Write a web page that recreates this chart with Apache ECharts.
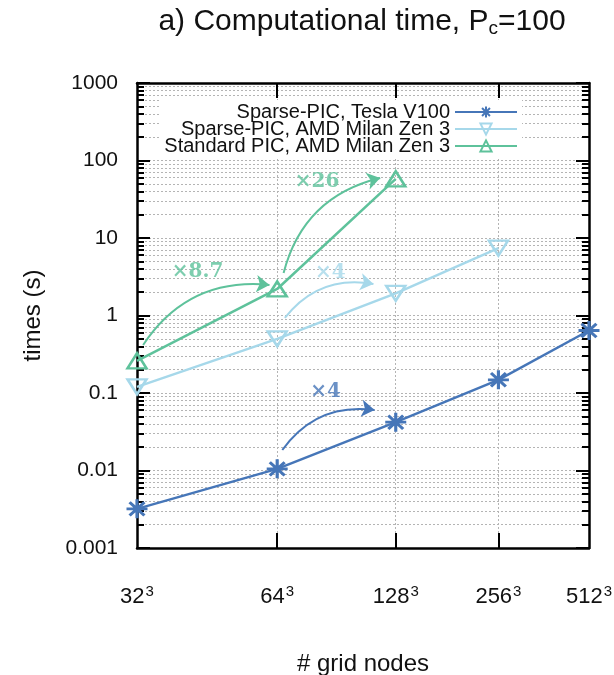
<!DOCTYPE html>
<html><head><meta charset="utf-8">
<script src="https://cdn.jsdelivr.net/npm/echarts@6/dist/echarts.min.js"></script>
<style>html,body{margin:0;padding:0;background:#fff}#c{width:614px;height:675px}</style>
</head><body><div id="c"></div>
<script>
// ---- data ----
const gridExp = [5, 6, 7, 8, 9];               // grid nodes = (2^exp)^3
const xTickBase = ['32', '64', '128', '256', '512'];   // tick labels: base^3
const yTickValues = [0.001, 0.01, 0.1, 1, 10, 100, 1000];
const yTickLabels = ['0.001', '0.01', '0.1', '1', '10', '100', '1000'];
const seriesNames = ['Sparse-PIC, Tesla V100', 'Sparse-PIC, AMD Milan Zen 3', 'Standard PIC, AMD Milan Zen 3'];
const teslaV100 = [0.0032, 0.0105, 0.042, 0.148, 0.64];
const sparseAMD = [0.12, 0.50, 1.93, 7.4, null];
const standardAMD = [0.26, 2.2, 58, null, null];
const annotationText = ['×8.7', '×26', '×4', '×4'];
const annotationSeries = [2, 2, 1, 0];
const arrowStart = [[5.04, 0.416], [6.05, 3.53], [6.06, 0.93], [6.04, 0.0184]];
const arrowEnd = [[5.94, 2.48], [6.86, 59.4], [6.80, 2.55], [6.81, 0.0604]];
const annotationPos = [[5.41, 3.64], [6.32, 52.8], [6.43, 3.53], [6.39, 0.103]];

// ---- style ----
const colors = ['#4676b8', '#a6d8ea', '#5ec29b'];
const minorVals = [];
for (let d = -3; d < 3; d++) for (let k = 2; k <= 9; k++) minorVals.push(+(k * Math.pow(10, d)).toPrecision(3));

const gridLine = { show: true, lineStyle: { color: '#b4b4b4', width: 1, type: [2, 2] } };
const asterisk = 'path://M10,0L10,20M0,10L20,10M2.93,2.93L17.07,17.07M2.93,17.07L17.07,2.93';

function yAx(pos, major) {
  return {
    type: 'log', logBase: 10, min: 0.001, max: 1000, position: pos,
    axisLine: { show: major, lineStyle: { color: '#000', width: 2.5 } },
    axisTick: major ? { show: true, inside: true, length: 13, lineStyle: { color: '#000', width: 2 } }
                    : { show: true, inside: true, length: 7, customValues: minorVals, lineStyle: { color: '#000', width: 2 } },
    axisLabel: (major && pos === 'left') ? {
      show: true, margin: 19, fontSize: 21, color: '#111', fontFamily: 'Liberation Sans',
      formatter: v => { const i = yTickValues.findIndex(t => Math.abs(Math.log10(t) - Math.log10(v)) < 1e-6); return i >= 0 ? yTickLabels[i] : ''; }
    } : { show: false },
    splitLine: pos === 'left' ? gridLine : { show: false },
    minorTick: { show: false }, minorSplitLine: { show: false },
    name: (major && pos === 'left') ? 'times (s)' : '',
    nameLocation: 'middle', nameGap: 92,
    nameTextStyle: { fontSize: 24, color: '#111', fontFamily: 'Liberation Sans' }
  };
}
function xAx(pos) {
  const bottom = pos === 'bottom';
  return {
    type: 'log', logBase: 10, min: 5, max: 9, position: pos,
    axisLine: { show: true, lineStyle: { color: '#000', width: 2.5 } },
    axisTick: { show: true, inside: true, length: 15, customValues: [6, 7, 8], lineStyle: { color: '#000', width: 2 } },
    axisLabel: bottom ? {
      show: true, customValues: gridExp, margin: 36, color: '#111',
      formatter: v => '{n|' + xTickBase[gridExp.indexOf(Math.round(v))] + '}{s|3}',
      rich: {
        n: { fontSize: 22, color: '#111', fontFamily: 'Liberation Sans' },
        s: { fontSize: 15, color: '#111', fontFamily: 'Liberation Sans', padding: [0, 0, 10, 1] }
      }
    } : { show: false },
    splitLine: bottom ? gridLine : { show: false },
    name: bottom ? '# grid nodes' : '',
    nameLocation: 'middle', nameGap: 104,
    nameTextStyle: { fontSize: 24, color: '#111', fontFamily: 'Liberation Sans' }
  };
}

function lineSeries(name, vals, ci, symbol, rotate, size) {
  return {
    type: 'line', name, xAxisIndex: 0, yAxisIndex: 0, clip: false, z: 5,
    data: gridExp.map((e, i) => [e, vals[i]]).filter(p => p[1] != null),
    symbol, symbolSize: size, symbolRotate: rotate,
    lineStyle: { color: colors[ci], width: 2.5 },
    itemStyle: { color: symbol === 'triangle' ? 'rgba(255,255,255,0)' : colors[ci], borderColor: colors[ci], borderWidth: symbol === 'triangle' ? 2.5 : 3 },
    emphasis: { disabled: true }
  };
}

const chart = echarts.init(document.getElementById('c'), null, { renderer: 'canvas' });
const series = [
  lineSeries(seriesNames[0], teslaV100, 0, asterisk, 0, [21, 19]),
  lineSeries(seriesNames[1], sparseAMD, 1, 'triangle', 180, [19, 15]),
  lineSeries(seriesNames[2], standardAMD, 2, 'triangle', 0, [19, 15])
];
annotationText.forEach((t, i) => {
  const c = colors[annotationSeries[i]];
  series.push({
    type: 'lines', coordinateSystem: 'cartesian2d', xAxisIndex: 0, yAxisIndex: 0, z: 4, silent: true,
    symbol: ['none', 'arrow'], symbolSize: [10, 13],
    lineStyle: { color: c, width: 2, curveness: 0.3, opacity: 1 },
    data: [{ coords: [arrowStart[i], arrowEnd[i]] }]
  });
  series.push({
    type: 'scatter', xAxisIndex: 0, yAxisIndex: 0, symbolSize: 0, z: 4, silent: true,
    data: [{ value: annotationPos[i], name: t }],
    label: { show: true, position: 'inside', formatter: p => p.name, color: c, fontSize: 20, fontWeight: 'bold', fontFamily: 'DejaVu Serif' }
  });
});

chart.setOption({
  animation: false,
  backgroundColor: '#fff',
  title: {
    text: '{a|a) Computational time, P}{s|c}{a|=100}',
    left: 357, top: 1, textAlign: 'center',
    textStyle: { fontWeight: 'normal', rich: { a: { fontSize: 30, fontWeight: 'normal', color: '#111', fontFamily: 'Liberation Sans' }, s: { fontSize: 19, fontWeight: 'normal', color: '#111', fontFamily: 'Liberation Sans', padding: [13, 0, 0, 0] } } }
  },
  grid: { left: 137, right: 25, top: 83, bottom: 127, containLabel: false, outerBoundsMode: 'none' },
  legend: {
    orient: 'vertical', align: 'right', right: 92, top: 100,
    itemWidth: 62, itemHeight: 14, itemGap: -3,
    backgroundColor: '#fff', padding: [2, 4, 2, 4],
    textStyle: { fontSize: 20, color: '#111', fontFamily: 'Liberation Sans', lineHeight: 18 },
    data: seriesNames
  },
  xAxis: [xAx('bottom'), xAx('top')],
  yAxis: [yAx('left', true), yAx('left', false), yAx('right', true), yAx('right', false)],
  series
});
</script></body></html>
